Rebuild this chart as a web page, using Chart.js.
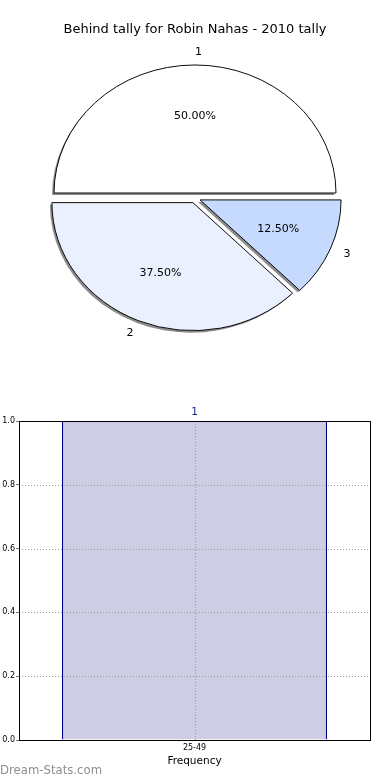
<!DOCTYPE html>
<html>
<head>
<meta charset="utf-8">
<script src="https://cdn.jsdelivr.net/npm/chart.js@4.4.0/dist/chart.umd.min.js"></script>
<style>
html, body { margin: 0; padding: 0; background: #fff; }
body { width: 390px; height: 780px; position: relative; overflow: hidden; font-family: "DejaVu Sans", sans-serif; }
#pie { position: absolute; left: 0; top: 0; }
#bar { position: absolute; left: 0; top: 395px; }
#mark { position: absolute; left: 0; top: 763px; font-size: 11.7px; line-height: 14px; color: #8f8f8f; }
</style>
</head>
<body>
<canvas id="pie" width="390" height="390"></canvas>
<canvas id="bar" width="390" height="385"></canvas>
<div id="mark">Dream-Stats.com</div>
<script>
// data
const pieTitle = 'Behind tally for Robin Nahas - 2010 tally';
const pieLabels = ['1', '2', '3'];
const pieValues = [50, 37.5, 12.5];

const barLabels = ['25-49'];
const barValues = [1];
const barAxisTitle = 'Frequency';

const FONT = '"DejaVu Sans", sans-serif';
const SY = 0.908;     // pie is drawn a bit squashed
const EXPLODE = 5.5;  // how far each slice is pulled out

function squash(ctx, cx, cy) {
  ctx.translate(cx, cy);
  ctx.scale(1, -SY);
  ctx.translate(-cx, -cy);
}

function midAngle(a) {
  return (a.startAngle + a.endAngle) / 2;
}

const piePlugin = {
  id: 'piePlugin',
  // the slices are drawn by hand below, so each one can be pulled out
  beforeDatasetDraw() {
    return false;
  },
  afterDatasetsDraw(chart) {
    const ctx = chart.ctx;
    const arcs = chart.getDatasetMeta(0).data;
    const cx = arcs[0].x, cy = arcs[0].y;

    // drop shadow
    ctx.save();
    ctx.translate(-2, 2);
    squash(ctx, cx, cy);
    ctx.fillStyle = 'rgba(0,0,0,0.45)';
    arcs.forEach(a => {
      const m = midAngle(a);
      const x = a.x + Math.cos(m) * EXPLODE, y = a.y + Math.sin(m) * EXPLODE;
      ctx.beginPath();
      ctx.moveTo(x, y);
      ctx.arc(x, y, a.outerRadius, a.startAngle, a.endAngle);
      ctx.closePath();
      ctx.fill();
    });
    ctx.restore();

    // slices
    arcs.forEach(a => {
      const m = midAngle(a);
      ctx.save();
      squash(ctx, cx, cy);
      ctx.translate(Math.cos(m) * EXPLODE, Math.sin(m) * EXPLODE);
      a.draw(ctx);
      ctx.restore();
    });

    // texts
    const vals = chart.data.datasets[0].data;
    const total = vals.reduce((s, v) => s + v, 0);
    ctx.save();
    ctx.fillStyle = '#000';
    ctx.textBaseline = 'middle';
    ctx.font = '13px ' + FONT;
    ctx.textAlign = 'center';
    ctx.fillText(pieTitle, chart.width / 2, 30);
    ctx.font = '11px ' + FONT;
    arcs.forEach((a, i) => {
      const m = midAngle(a);
      const pt = k => {
        const d = EXPLODE + k * a.outerRadius;
        return [a.x + Math.cos(m) * d, a.y - SY * Math.sin(m) * d];
      };
      let p = pt(0.6);
      ctx.textAlign = 'center';
      ctx.fillText((vals[i] / total * 100).toFixed(2) + '%', p[0], p[1]);
      p = pt(1.1);
      ctx.textAlign = Math.cos(m) >= 0 ? 'left' : 'right';
      ctx.fillText(chart.data.labels[i], p[0], p[1]);
    });
    ctx.restore();
  }
};

new Chart(document.getElementById('pie'), {
  type: 'pie',
  data: {
    labels: pieLabels,
    datasets: [{
      data: pieValues,
      backgroundColor: ['#ffffff', '#eaf0fd', '#c6d9fe'],
      borderColor: '#000',
      borderWidth: 1,
      offset: 0,
      hoverOffset: 0
    }]
  },
  options: {
    responsive: false,
    animation: false,
    events: [],
    rotation: 90,
    radius: 141,
    layout: { padding: { top: 6 } },
    plugins: { legend: { display: false }, tooltip: { enabled: false }, title: { display: false } }
  },
  plugins: [piePlugin]
});

function dottedLine(ctx, x1, y1, x2, y2) {
  ctx.beginPath();
  ctx.moveTo(x1, y1);
  ctx.lineTo(x2, y2);
  ctx.stroke();
}

const barPlugin = {
  id: 'barPlugin',
  afterDatasetsDraw(chart) {
    const { ctx, chartArea: a, scales } = chart;
    ctx.save();
    // dotted grid, above the bar
    ctx.strokeStyle = '#9a9a9a';
    ctx.lineWidth = 1;
    ctx.setLineDash([1, 2]);
    scales.y.ticks.forEach(t => {
      const y = Math.round(scales.y.getPixelForValue(t.value)) + 0.5;
      dottedLine(ctx, a.left, y, a.right, y);
    });
    scales.x.ticks.forEach((t, i) => {
      const x = Math.round(scales.x.getPixelForTick(i)) + 0.5;
      dottedLine(ctx, x, a.top, x, a.bottom);
    });
    ctx.setLineDash([]);
    // value above the bar
    ctx.fillStyle = '#1a1a8c';
    ctx.font = '10.5px ' + FONT;
    ctx.textAlign = 'center';
    ctx.textBaseline = 'middle';
    chart.getDatasetMeta(0).data.forEach((b, i) => {
      ctx.fillText(String(chart.data.datasets[0].data[i]), b.x, b.y - 9);
    });
    ctx.restore();
  },
  afterDraw(chart) {
    const { ctx, chartArea: a } = chart;
    ctx.save();
    ctx.strokeStyle = '#000';
    ctx.lineWidth = 1;
    ctx.strokeRect(Math.round(a.left) + 0.5, Math.round(a.top) + 0.5,
      Math.round(a.right - a.left), Math.round(a.bottom - a.top));
    ctx.restore();
  }
};

new Chart(document.getElementById('bar'), {
  type: 'bar',
  data: {
    labels: barLabels,
    datasets: [{
      data: barValues,
      backgroundColor: 'rgb(205,205,228)',
      borderColor: '#000088',
      borderWidth: 1.3,
      barPercentage: 0.755,
      categoryPercentage: 1
    }]
  },
  options: {
    responsive: false,
    animation: false,
    events: [],
    layout: { padding: { left: 0, right: 20, top: 26, bottom: 0 } },
    plugins: { legend: { display: false }, tooltip: { enabled: false } },
    scales: {
      x: {
        grid: { drawOnChartArea: false, drawTicks: false },
        border: { display: false },
        ticks: { color: '#000', font: { size: 8, family: FONT }, padding: 3 },
        title: { display: true, text: barAxisTitle, color: '#000', font: { size: 10.5, family: FONT }, padding: { top: 0, bottom: 12 } },
        afterFit(s) { s.height = 40; }
      },
      y: {
        min: 0,
        max: 1,
        grid: { drawOnChartArea: false, drawTicks: true, tickLength: 3, tickColor: '#777' },
        border: { display: false },
        ticks: { stepSize: 0.2, color: '#000', font: { size: 8, family: FONT }, padding: 1, callback: v => v.toFixed(1) },
        afterFit(s) { s.width = 19; }
      }
    }
  },
  plugins: [barPlugin]
});
</script>
</body>
</html>
